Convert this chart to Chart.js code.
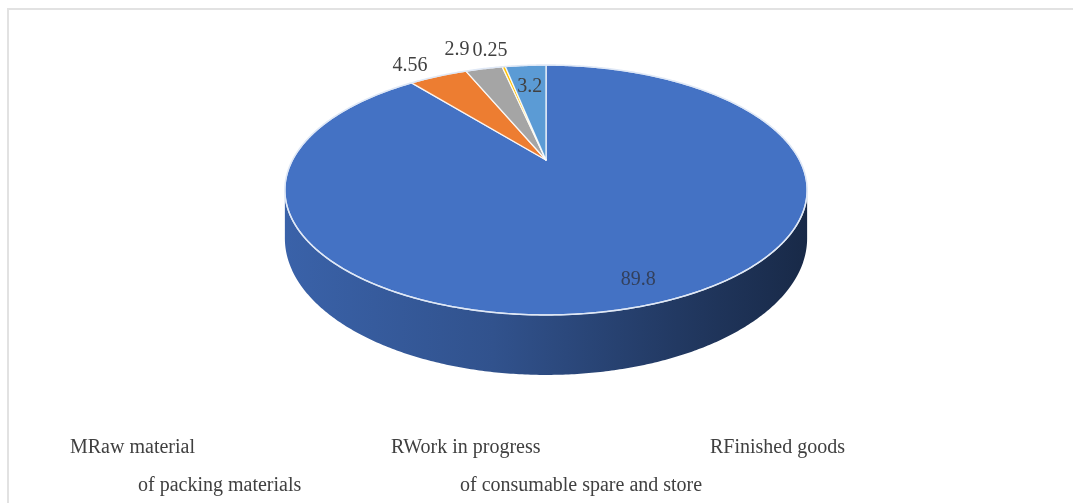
<!DOCTYPE html>
<html>
<head>
<meta charset="utf-8">
<script src="https://cdn.jsdelivr.net/npm/chart.js"></script>
<style>
  html, body { margin: 0; padding: 0; background: #fff; }
  #wrap { position: relative; width: 1073px; height: 503px; overflow: hidden; }
  #frame { position: absolute; left: 7px; top: 8px; width: 1100px; height: 520px;
           border-top: 2px solid #e2e2e2; border-left: 2px solid #e2e2e2; }
  canvas { position: absolute; left: 0; top: 0; }
  .leg { position: absolute; font-family: "Liberation Serif", "Times New Roman", serif;
         font-size: 20px; line-height: 20px; color: #404040; white-space: nowrap;
         transform: translateY(-50%); }
</style>
</head>
<body>
<div id="wrap">
  <div id="frame"></div>
  <canvas id="pie3d" width="1073" height="503"></canvas>
  <div id="legend"></div>
</div>
<script>
const categories = ["Raw material", "Work in progress", "Finished goods", "of packing materials", "of consumable spare and store"];
const values = [89.8, 4.56, 2.9, 0.25, 3.2];
const valueLabels = ["89.8", "4.56", "2.9", "0.25", "3.2"];
const legendLabels = ["MRaw material", "RWork in progress", "RFinished goods", "of packing materials", "of consumable spare and store"];

const colors = ["#4472C4", "#ED7D31", "#A5A5A5", "#FFC000", "#5B9BD5"];

// look of the tilted pie, relative to the chart's own radius
const tilt = { kx: 1.69, ky: 0.785, persp: 0.24, depth: 0.304 };
const labelRadius = [0.86, 1.21, 1.31, 1.27, 0.76];
const labelShift = [[2, 1], [-10, 4], [-12, 3], [-5, 3], [0, 2]];
const legendPos = [[70, 446], [391, 446], [710, 446], [138, 484], [460, 484]];

function proj(cx, cy, r, th, f, drop) {
  const u = Math.sin(th) * f, v = Math.cos(th) * f;
  const d = 1 + tilt.persp * v;
  return [cx + r * tilt.kx * u / d, cy - r * tilt.ky * v / d + (drop ? r * tilt.depth / d : 0)];
}

function shade(hex, k) {
  const n = parseInt(hex.slice(1), 16);
  const c = [(n >> 16) & 255, (n >> 8) & 255, n & 255].map(x => Math.round(x * k));
  return "rgb(" + c.join(",") + ")";
}

const pie3d = {
  id: "pie3d",
  beforeDatasetsDraw(chart) {
    const ctx = chart.ctx;
    const arcs = chart.getDatasetMeta(0).data;
    const cx = arcs[0].x, cy = arcs[0].y, r = arcs[0].outerRadius;
    const step = Math.PI / 360;
    const edge = Math.acos(-tilt.persp);

    // side wall, front part only
    arcs.forEach((a, i) => {
      const s = Math.max(a.startAngle + Math.PI / 2, edge);
      const e = Math.min(a.endAngle + Math.PI / 2, 2 * Math.PI - edge);
      if (e <= s) return;
      ctx.beginPath();
      for (let t = s; t <= e; t += step) ctx.lineTo(...proj(cx, cy, r, t, 1, false));
      ctx.lineTo(...proj(cx, cy, r, e, 1, false));
      for (let t = e; t >= s; t -= step) ctx.lineTo(...proj(cx, cy, r, t, 1, true));
      ctx.lineTo(...proj(cx, cy, r, s, 1, true));
      ctx.closePath();
      const w = r * tilt.kx * 1.04;
      const g = ctx.createLinearGradient(cx - w, 0, cx + w, 0);
      g.addColorStop(0, shade(colors[i], 0.86));
      g.addColorStop(0.4, shade(colors[i], 0.72));
      g.addColorStop(0.75, shade(colors[i], 0.5));
      g.addColorStop(1, shade(colors[i], 0.36));
      ctx.fillStyle = g;
      ctx.fill();
    });

    // top face
    arcs.forEach((a, i) => {
      const s = a.startAngle + Math.PI / 2, e = a.endAngle + Math.PI / 2;
      ctx.beginPath();
      ctx.moveTo(cx, cy);
      for (let t = s; t < e; t += step) ctx.lineTo(...proj(cx, cy, r, t, 1, false));
      ctx.lineTo(...proj(cx, cy, r, e, 1, false));
      ctx.closePath();
      ctx.fillStyle = colors[i];
      ctx.fill();
      ctx.strokeStyle = "rgba(255,255,255,0.85)";
      ctx.lineWidth = 1.3;
      ctx.lineJoin = "round";
      ctx.stroke();
    });

    // rim highlight
    ctx.beginPath();
    for (let t = 0; t <= 2 * Math.PI + step; t += step) ctx.lineTo(...proj(cx, cy, r, t, 1, false));
    ctx.strokeStyle = "#dfe8f6";
    ctx.lineWidth = 1.5;
    ctx.stroke();

    // data labels
    ctx.font = '20px "Liberation Serif", "Times New Roman", serif';
    ctx.textAlign = "center";
    ctx.textBaseline = "middle";
    arcs.forEach((a, i) => {
      const mid = (a.startAngle + a.endAngle) / 2 + Math.PI / 2;
      const p = proj(cx, cy, r, mid, labelRadius[i], false);
      ctx.fillStyle = i === 0 ? "#33405c" : "#404040";
      ctx.fillText(valueLabels[i], p[0] + labelShift[i][0], p[1] + labelShift[i][1]);
    });
    return false;
  }
};

document.addEventListener("DOMContentLoaded", () => {
  new Chart(document.getElementById("pie3d"), {
    type: "pie",
    data: {
      labels: categories,
      datasets: [{
        data: values,
        backgroundColor: colors,
        borderWidth: 0
      }]
    },
    options: {
      responsive: false,
      animation: false,
      layout: { padding: { left: 396, right: 377, top: 10, bottom: 193 } },
      plugins: {
        legend: { display: false },
        tooltip: { enabled: false }
      }
    },
    plugins: [pie3d]
  });

  const box = document.getElementById("legend");
  legendLabels.forEach((txt, i) => {
    const d = document.createElement("div");
    d.className = "leg";
    d.textContent = txt;
    d.style.left = legendPos[i][0] + "px";
    d.style.top = legendPos[i][1] + "px";
    box.appendChild(d);
  });
});
</script>
</body>
</html>
